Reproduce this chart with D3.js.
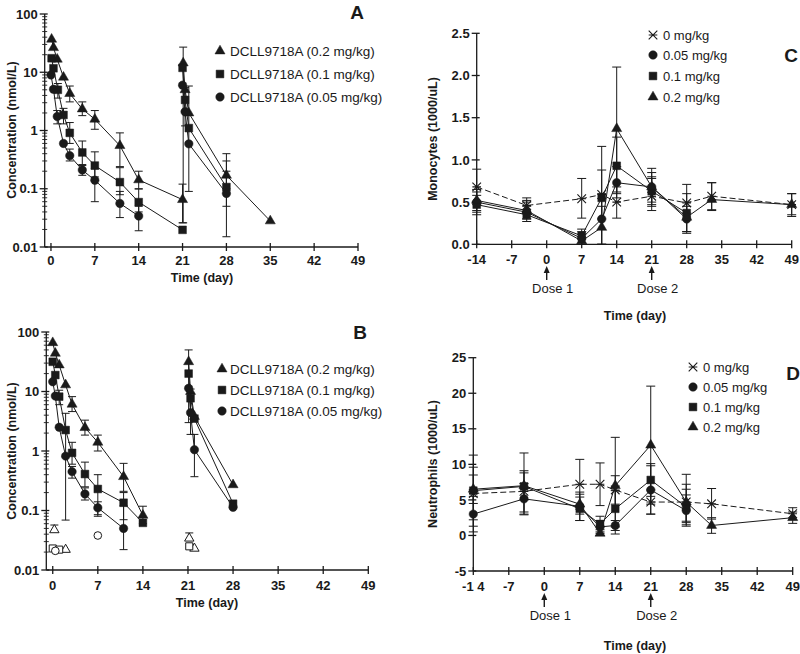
<!DOCTYPE html>
<html><head><meta charset="utf-8">
<script src="https://cdn.jsdelivr.net/npm/d3@7"></script>
<style>
body{margin:0;background:#fff}
svg text{font-family:"Liberation Sans",Arial,sans-serif;fill:#1a1a1a}
</style>
</head><body>
<svg id="c" width="800" height="654"></svg>
<script>
// ---------------- DATA ----------------
// each point: [day, value, lowerBar, upperBar]
const pkDayTicks = [0, 7, 14, 21, 28, 35, 42, 49];
const pkValueTicks = [0.01, 0.1, 1, 10, 100];
const pkTickLabels = ["0.01", "0.1", "1", "10", "100"];
const pkLegend = ["DCLL9718A (0.2 mg/kg)", "DCLL9718A (0.1 mg/kg)", "DCLL9718A (0.05 mg/kg)"];

// Panel A
const pkA_02_d1 = [[0.1,36.8],[0.4,26.4],[1,16.7],[2,8.2],[3,4.3,3.1,5.8],[5,2.34,1.8,3.1],[7,1.56,1.05,2.2],[11,0.55,0.24,0.91],[14,0.142,0.1,0.2],[21,0.065,0.026,0.12]];
const pkA_02_d2 = [[21.1,14.4,0.026,27],[21.4,5.0],[22,2.0,0.09,5.8],[28,0.17,0.1,0.4],[35,0.028]];
const pkA_01_d1 = [[0.1,17.4],[0.4,11.7],[1.1,5.0,3.6,6.4],[2,1.85,1.3,2.4],[3,0.91,0.6,1.37],[5,0.42,0.26,0.66],[7,0.25,0.16,0.43],[11,0.13,0.079,0.23],[14,0.059,0.04,0.099],[21,0.0197]];
const pkA_01_d2 = [[21,11.9],[21.4,3.35,1.2,5.5],[22,1.1],[28,0.107,0.05,0.2]];
const pkA_005_d1 = [[0,9.0],[0.4,5.1],[1,1.74,1.3,2.2],[2,0.6],[3,0.37,0.3,0.48],[5,0.21,0.17,0.25],[7,0.14,0.06,0.22],[11,0.056,0.032,0.09],[14,0.034,0.019,0.05]];
const pkA_005_d2 = [[21,6.0],[21.4,2.1],[22,0.59],[28,0.083,0.015,0.3]];

// Panel B
const pkB_02_d1 = [[0,66],[0.4,43.8],[1,27.9],[2,12.9],[3,6.1,4.6,8.2],[5,2.47,1.85,3.3],[7,1.4,1.0,1.85],[11,0.37,0.21,0.62],[14,0.083,0.06,0.118]];
const pkB_02_d2 = [[21.1,31.6,3.0,50],[21.4,10],[22,3.8],[28,0.27]];
const pkB_01_d1 = [[0,31.6],[0.4,18.9],[1,8.2,6,10.5],[2,2.25,0.069,4.3],[3,0.93,0.6,1.4],[5,0.41,0.25,0.65],[7,0.23,0.085,0.4],[11,0.135,0.07,0.2],[14,0.062]];
const pkB_01_d2 = [[21.1,20],[21.4,7.7,1.9,11],[22,3.5],[28,0.13]];
const pkB_005_d1 = [[0,14.6],[0.4,8.4],[1,2.5],[2,0.82],[3,0.45,0.35,0.55],[5,0.19,0.15,0.24],[7,0.111,0.08,0.14],[11,0.05,0.022,0.12]];
const pkB_005_d2 = [[21.1,11.3],[21.4,4.4],[22,1.05,0.37,1.9],[28,0.113]];
const pkB_open_tri = [[0.25,0.047,null,0.057],[2,0.022],[21.2,0.034,null,0.042],[22,0.023]];
const pkB_open_sq = [[0,0.023],[1,0.022],[21.2,0.025]];
const pkB_open_circ = [[0.4,0.021],[7,0.038]];

// Panels C and D
const cellDayTicks = [-14, -7, 0, 7, 14, 21, 28, 35, 42, 49];
const monoTickLabels = ["0.0", "0.5", "1.0", "1.5", "2.0", "2.5"];
const monoTicks = [0, 0.5, 1.0, 1.5, 2.0, 2.5];
const neutTicks = [-5, 0, 5, 10, 15, 20, 25];
const cellLegend = ["0 mg/kg", "0.05 mg/kg", "0.1 mg/kg", "0.2 mg/kg"];
const doseLabels = ["Dose 1", "Dose 2"];
const doseDays = [0, 21];

const mono0 = [[-14,0.68,0.47,0.89],[-4,0.46,0.37,0.55],[7,0.54,0.31,0.78],[11,0.59,0.3,0.88],[14,0.5,0.31,0.68],[21,0.57,0.45,0.8],[28,0.49,0.37,0.71],[33,0.57,0.41,0.73],[49,0.47,0.35,0.6]];
const mono005 = [[-14,0.5,0.35,0.62],[-4,0.38,0.3,0.5],[7,0.07,0.0,0.15],[11,0.3,0.0,0.6],[14,0.73,0.55,0.92],[21,0.68,0.47,0.9],[28,0.3,0.15,0.45]];
const mono01 = [[-14,0.47,0.38,0.58],[-4,0.35,0.27,0.45],[7,0.1,0.0,0.18],[11,0.55,0.0,1.16],[14,0.93,0.6,1.27],[21,0.63,0.4,0.85],[28,0.37,0.13,0.6]];
const mono02 = [[-14,0.52,0.4,0.65],[-4,0.4,0.3,0.52],[7,0.04,0.0,0.12],[11,0.2,0.0,0.45],[14,1.37,0.62,2.1],[21,0.68,0.5,0.78],[28,0.32,0.15,0.5],[33,0.53,0.4,0.73],[49,0.47,0.33,0.6]];

const neut0 = [[-14,5.9,2.2,9.6],[-4,6.2,3.3,9.1],[7,7.2,3.7,10.7],[11,7.2,4.2,10.2],[14,6.4,4.4,8.4],[21,4.7,3.0,6.4],[28,4.7,2.0,7.2],[33,4.45,2.3,6.6],[49,3.05,2.2,3.9]];
const neut005 = [[-14,3.0,0.5,5.5],[-4,5.15,3.0,7.3],[7,4.1,2.1,6.1],[11,1.2,0.3,2.1],[14,1.4,0.7,2.1],[21,6.4,3.0,9.8],[28,3.5,1.3,5.7]];
const neut01 = [[-14,6.3,1.3,11.3],[-4,6.9,2.9,11.6],[7,3.75,2.1,5.4],[11,1.6,0.5,2.7],[14,3.75,1.2,6.3],[21,7.8,5.5,10.1],[28,4.0,1.5,6.5]];
const neut02 = [[-14,6.5,4.5,8.5],[-4,7.0,5.0,8.8],[7,4.4,3.0,5.8],[11,0.3,0.0,0.8],[14,7.0,0.2,13.8],[21,12.7,4.4,21],[28,4.7,1.8,8.6],[33,1.4,0.3,2.5],[49,2.5,1.7,3.3]];

// ---------------- DRAWING ----------------
const INK = "#1a1a1a";
const svg = d3.select("#c");

function marker(g, type, x, y, open) {
  const fill = open ? "#fff" : INK;
  const sizes = {tri: open ? 38 : 44, sq: open ? 50 : 60, circ: open ? 46 : 56};
  const sym = {tri: d3.symbolTriangle, sq: d3.symbolSquare, circ: d3.symbolCircle};
  if (type === "x") {
    const s = 4.3;
    g.append("path").attr("d", `M${x-s},${y-s}L${x+s},${y+s}M${x-s},${y+s}L${x+s},${y-s}M${x-s},${y}L${x+s},${y}`)
      .attr("stroke", INK).attr("stroke-width", 1.1).attr("fill", "none");
  } else {
    g.append("path").attr("d", d3.symbol(sym[type], sizes[type])())
      .attr("transform", `translate(${x},${y})`).attr("fill", fill).attr("stroke", INK)
      .attr("stroke-width", open ? 1 : 0.5);
  }
}

function drawSeries(g, x, y, data, type, opts = {}) {
  const cap = opts.cap || 4;
  const eb = g.append("g").attr("stroke", INK).attr("stroke-width", 1).attr("fill", "none");
  data.forEach(d => {
    const lo = d[2], hi = d[3];
    if (lo == null && hi == null) return;
    const px = x(d[0]);
    const y0 = lo != null ? y(lo) : y(d[1]);
    const y1 = hi != null ? y(hi) : y(d[1]);
    eb.append("line").attr("x1", px).attr("x2", px).attr("y1", y0).attr("y2", y1);
    if (lo != null) eb.append("line").attr("x1", px - cap).attr("x2", px + cap).attr("y1", y0).attr("y2", y0);
    if (hi != null) eb.append("line").attr("x1", px - cap).attr("x2", px + cap).attr("y1", y1).attr("y2", y1);
  });
  if (!opts.noLine) {
    const line = d3.line().x(d => x(d[0])).y(d => y(d[1]));
    g.append("path").datum(data).attr("d", line).attr("fill", "none").attr("stroke", INK)
      .attr("stroke-width", 1).attr("stroke-dasharray", opts.dash || null);
  }
  const mg = g.append("g");
  data.forEach(d => marker(mg, type, x(d[0]), y(d[1]), opts.open));
}

function drawAxes(g, x, y, cfg) {
  const [x0, x1] = x.range();
  const [yb, yt] = y.range();
  const ax = g.append("g").attr("stroke", INK).attr("stroke-width", 1.3).attr("fill", "none");
  ax.append("line").attr("x1", x0).attr("x2", x0).attr("y1", yb).attr("y2", yt);
  ax.append("line").attr("x1", x0).attr("x2", x1).attr("y1", cfg.xAxisY).attr("y2", cfg.xAxisY);
  cfg.yTicks.forEach((t, i) => {
    const py = y(t);
    ax.append("line").attr("x1", x0 - 5).attr("x2", x0 + 3).attr("y1", py).attr("y2", py);
    g.append("text").attr("x", x0 - 7).attr("y", py + 4.6).attr("text-anchor", "end")
      .attr("font-size", 13).attr("font-weight", "bold").text(cfg.yLabels[i]);
  });
  if (cfg.minor) {
    cfg.minor.forEach(t => {
      const py = y(t);
      ax.append("line").attr("x1", x0 - 2.5).attr("x2", x0 + 2.5).attr("y1", py).attr("y2", py).attr("stroke-width", 0.9);
    });
  }
  cfg.xTicks.forEach((t, i) => {
    const px = x(t);
    ax.append("line").attr("x1", px).attr("x2", px).attr("y1", cfg.xAxisY - 4).attr("y2", cfg.xAxisY + 4);
    g.append("text").attr("x", px).attr("y", cfg.xLabelY).attr("text-anchor", "middle")
      .attr("font-size", 13).attr("font-weight", "bold").text(cfg.xLabels ? cfg.xLabels[i] : String(t));
  });
  g.append("text").attr("x", cfg.xTitle[0]).attr("y", cfg.xTitle[1]).attr("text-anchor", "middle")
    .attr("font-size", 12.5).attr("font-weight", "bold").text("Time (day)");
  g.append("text").attr("transform", `translate(${cfg.yTitle[0]},${cfg.yTitle[1]}) rotate(-90)`)
    .attr("text-anchor", "middle").attr("font-size", 12.5).attr("font-weight", "bold").text(cfg.yTitleText);
  g.append("text").attr("x", cfg.letter[0]).attr("y", cfg.letter[1]).attr("text-anchor", "middle")
    .attr("font-size", 19).attr("font-weight", "bold").text(cfg.letterText);
}

function legend(g, items, mx, tx, rows, size) {
  items.forEach((it, i) => {
    marker(g, it.type, mx, rows[i], false);
    g.append("text").attr("x", tx).attr("y", rows[i] + 4.6).attr("font-size", size).text(it.label);
  });
}

function doseArrows(g, x, tipY, baseY, textY) {
  doseDays.forEach((d, i) => {
    const px = x(d);
    g.append("line").attr("x1", px).attr("x2", px).attr("y1", tipY + 5).attr("y2", baseY)
      .attr("stroke", INK).attr("stroke-width", 1.4);
    g.append("path").attr("d", `M${px},${tipY}L${px - 3},${tipY + 7}L${px + 3},${tipY + 7}Z`).attr("fill", INK);
    g.append("text").attr("x", px + 6).attr("y", textY).attr("text-anchor", "middle")
      .attr("font-size", 13).text(doseLabels[i]);
  });
}

const pkMinor = [];
[0.01, 0.1, 1, 10].forEach(b => { for (let k = 2; k <= 9; k++) pkMinor.push(b * k); });

// ---- Panel A ----
{
  const g = svg.append("g");
  const x = d3.scaleLinear().domain([-1, 49]).range([44.7, 358]);
  const y = d3.scaleLog().domain([0.01, 100]).range([247, 14]);
  drawAxes(g, x, y, {xAxisY: 247, yTicks: pkValueTicks, yLabels: pkTickLabels, minor: pkMinor,
    xTicks: pkDayTicks, xLabelY: 264.5, xTitle: [202, 281.5], yTitle: [15.5, 130],
    yTitleText: "Concentration (nmol/L)", letter: [357, 19], letterText: "A"});
  [[pkA_02_d1,"tri"],[pkA_02_d2,"tri"],[pkA_01_d1,"sq"],[pkA_01_d2,"sq"],[pkA_005_d1,"circ"],[pkA_005_d2,"circ"]]
    .forEach(([d,t]) => drawSeries(g, x, y, d, t));
  legend(g, [{type:"tri",label:pkLegend[0]},{type:"sq",label:pkLegend[1]},{type:"circ",label:pkLegend[2]}],
    220, 230, [51, 74, 97], 13.5);
}

// ---- Panel B ----
{
  const g = svg.append("g");
  const x = d3.scaleLinear().domain([-1, 49]).range([46.3, 368.3]);
  const y = d3.scaleLog().domain([0.01, 100]).range([570, 332]);
  drawAxes(g, x, y, {xAxisY: 570, yTicks: pkValueTicks, yLabels: pkTickLabels, minor: pkMinor,
    xTicks: pkDayTicks, xLabelY: 589.5, xTitle: [207, 606.5], yTitle: [15.5, 451],
    yTitleText: "Concentration (nmol/L)", letter: [360, 339], letterText: "B"});
  [[pkB_02_d1,"tri"],[pkB_02_d2,"tri"],[pkB_01_d1,"sq"],[pkB_01_d2,"sq"],[pkB_005_d1,"circ"],[pkB_005_d2,"circ"]]
    .forEach(([d,t]) => drawSeries(g, x, y, d, t));
  drawSeries(g, x, y, pkB_open_tri, "tri", {open: true, noLine: true});
  drawSeries(g, x, y, pkB_open_sq, "sq", {open: true, noLine: true});
  drawSeries(g, x, y, pkB_open_circ, "circ", {open: true, noLine: true});
  legend(g, [{type:"tri",label:pkLegend[0]},{type:"sq",label:pkLegend[1]},{type:"circ",label:pkLegend[2]}],
    222, 230, [369, 390, 411], 13.5);
}

// ---- Panel C ----
{
  const g = svg.append("g");
  const x = d3.scaleLinear().domain([-14, 49]).range([476.7, 791.7]);
  const y = d3.scaleLinear().domain([0, 2.5]).range([244.3, 33.3]);
  drawAxes(g, x, y, {xAxisY: 244.3, yTicks: monoTicks, yLabels: monoTickLabels,
    xTicks: cellDayTicks, xLabelY: 264, xTitle: [635, 319.5], yTitle: [436.5, 139],
    yTitleText: "Monocytes (1000/uL)", letter: [791, 62], letterText: "C"});
  drawSeries(g, x, y, mono0, "x", {dash: "6,3", cap: 4.5});
  drawSeries(g, x, y, mono005, "circ", {cap: 4.5});
  drawSeries(g, x, y, mono01, "sq", {cap: 4.5});
  drawSeries(g, x, y, mono02, "tri", {cap: 4.5});
  doseArrows(g, x, 266, 280, 292.5);
  legend(g, [{type:"x",label:cellLegend[0]},{type:"circ",label:cellLegend[1]},{type:"sq",label:cellLegend[2]},{type:"tri",label:cellLegend[3]}],
    653, 663, [35, 55, 76, 97], 13);
}

// ---- Panel D ----
{
  const g = svg.append("g");
  const x = d3.scaleLinear().domain([-14, 49]).range([473.3, 792.7]);
  const y = d3.scaleLinear().domain([-5, 25]).range([571, 357.7]);
  const dLabels = cellDayTicks.map(t => t === -14 ? "-1 4" : String(t));
  drawAxes(g, x, y, {xAxisY: 571, yTicks: neutTicks, yLabels: neutTicks.map(String),
    xTicks: cellDayTicks, xLabels: dLabels, xLabelY: 590.5, xTitle: [635, 649.5], yTitle: [436.5, 464],
    yTitleText: "Neutrophils (1000/uL)", letter: [793, 380], letterText: "D"});
  drawSeries(g, x, y, neut0, "x", {dash: "6,3", cap: 4.5});
  drawSeries(g, x, y, neut005, "circ", {cap: 4.5});
  drawSeries(g, x, y, neut01, "sq", {cap: 4.5});
  drawSeries(g, x, y, neut02, "tri", {cap: 4.5});
  doseArrows(g, x, 593, 607, 619.5);
  legend(g, [{type:"x",label:cellLegend[0]},{type:"circ",label:cellLegend[1]},{type:"sq",label:cellLegend[2]},{type:"tri",label:cellLegend[3]}],
    693, 703, [367, 387, 407, 427], 13);
}
</script>
</body></html>
